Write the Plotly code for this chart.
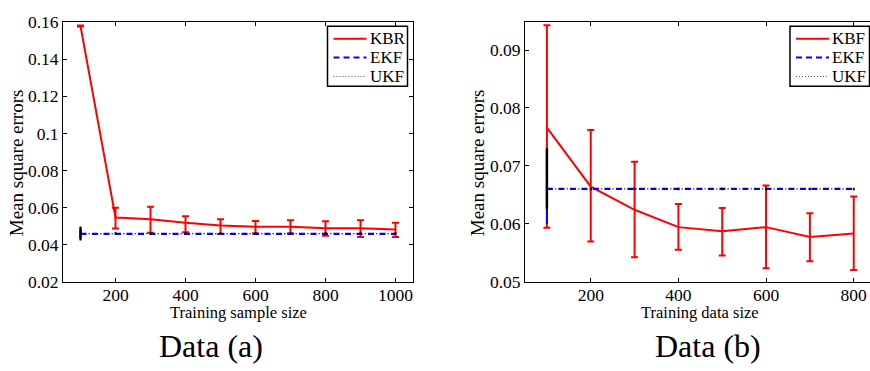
import plotly.graph_objects as go

W, H = 870, 371

# ---------------- Data (a) ----------------
a_x = [100, 200, 300, 400, 500, 600, 700, 800, 900, 1000]
a_kbr = [0.1580, 0.0546, 0.0536, 0.0517, 0.0503, 0.0496, 0.0496, 0.0488, 0.0488, 0.0481]
a_kbr_hi = [0.1583, 0.0599, 0.0604, 0.0553, 0.0536, 0.0527, 0.0531, 0.0525, 0.0531, 0.0518]
a_kbr_lo = [0.1577, 0.0486, 0.0464, 0.0466, 0.0457, 0.0460, 0.0460, 0.0447, 0.0440, 0.0440]
a_ekf = [0.0457] * len(a_x)
a_ekf_hi = 0.0477
a_ekf_lo = 0.0437
a_ukf = [0.0459] * len(a_x)
a_ukf_hi = 0.0491
a_ukf_lo = 0.0428
a_xticks = [200, 400, 600, 800, 1000]
a_yticks = [0.02, 0.04, 0.06, 0.08, 0.10, 0.12, 0.14, 0.16]
a_ytick_labels = ["0.02", "0.04", "0.06", "0.08", "0.1", "0.12", "0.14", "0.16"]
a_names = ["KBR", "EKF", "UKF"]

# ---------------- Data (b) ----------------
b_x = [100, 200, 300, 400, 500, 600, 700, 800]
b_kbf = [0.0766, 0.0664, 0.0624, 0.0594, 0.0587, 0.0594, 0.0577, 0.0583]
b_kbf_hi = [0.0943, 0.0762, 0.0707, 0.0634, 0.0627, 0.0666, 0.0618, 0.0647]
b_kbf_lo = [0.0593, 0.0569, 0.0542, 0.0555, 0.0545, 0.0523, 0.0535, 0.0520]
b_ekf = [0.0660] * len(b_x)
b_ekf_hi = 0.0720
b_ekf_lo = 0.0600
b_ukf = [0.0660] * len(b_x)
b_ukf_hi = 0.0729
b_ukf_lo = 0.0627
b_xticks = [200, 400, 600, 800]
b_yticks = [0.05, 0.06, 0.07, 0.08, 0.09]
b_ytick_labels = ["0.05", "0.06", "0.07", "0.08", "0.09"]
b_names = ["KBF", "EKF", "UKF"]

RED = "#ff0000"
BLUE = "#0000ff"
FONT = "Liberation Serif"


def first_only(val, n):
    return [val] + [0] * (n - 1)


fig = go.Figure()


def add_panel(xs, kb, kb_hi, kb_lo, ekf, ekf_hi, ekf_lo, ukf, ukf_hi, ukf_lo, xa, ya):
    n = len(xs)
    fig.add_trace(go.Scatter(
        x=xs, y=kb, mode="lines", line=dict(color=RED, width=2),
        error_y=dict(type="data", symmetric=False,
                     array=[h - m for h, m in zip(kb_hi, kb)],
                     arrayminus=[m - l for m, l in zip(kb, kb_lo)],
                     color=RED, thickness=2, width=3.5),
        xaxis=xa, yaxis=ya, showlegend=False, hoverinfo="skip"))
    fig.add_trace(go.Scatter(
        x=xs, y=ekf, mode="lines", line=dict(color=BLUE, width=2.2, dash="6px,5.5px"),
        error_y=dict(type="data", symmetric=False,
                     array=first_only(ekf_hi - ekf[0], n),
                     arrayminus=first_only(ekf[0] - ekf_lo, n),
                     color=BLUE, thickness=2, width=0),
        xaxis=xa, yaxis=ya, showlegend=False, hoverinfo="skip"))
    fig.add_trace(go.Scatter(
        x=xs, y=ukf, mode="lines", line=dict(color="#404040", width=1.3, dash="0px,8px,1.5px,2px"),
        error_y=dict(type="data", symmetric=False,
                     array=first_only(ukf_hi - ukf[0], n),
                     arrayminus=first_only(ukf[0] - ukf_lo, n),
                     color="black", thickness=2.5, width=1),
        xaxis=xa, yaxis=ya, showlegend=False, hoverinfo="skip"))


add_panel(a_x, a_kbr, a_kbr_hi, a_kbr_lo, a_ekf, a_ekf_hi, a_ekf_lo,
          a_ukf, a_ukf_hi, a_ukf_lo, "x", "y")
add_panel(b_x, b_kbf, b_kbf_hi, b_kbf_lo, b_ekf, b_ekf_hi, b_ekf_lo,
          b_ukf, b_ukf_hi, b_ukf_lo, "x2", "y2")

axis_common = dict(showline=True, linecolor="black", linewidth=1, ticks="inside",
                   ticklen=4, tickcolor="black", tickwidth=1, showgrid=False,
                   zeroline=False, tickfont=dict(family=FONT, size=17.5, color="black"))

y_dom = [1 - 287 / H, 1 - 13 / H]


def px(xp):
    return xp / W


def py(yp):
    return 1 - yp / H


annotations = []
shapes = []


def text(t, xp, yp, size, angle=0):
    annotations.append(dict(text=t, x=px(xp), y=py(yp), xref="paper", yref="paper",
                            xanchor="center", yanchor="middle", showarrow=False,
                            textangle=angle, font=dict(family=FONT, size=size, color="black")))


# manual legend boxes (matlab style)
legend_styles = [dict(color=RED, width=2, dash="solid"),
                 dict(color=BLUE, width=2, dash="6px,4px"),
                 dict(color="#555555", width=1, dash="1px,2px")]


def legend(names, left, right, top, bottom):
    shapes.append(dict(type="rect", xref="paper", yref="paper", x0=px(left), x1=px(right),
                       y0=py(bottom), y1=py(top), line=dict(color="black", width=1.5),
                       fillcolor="white", layer="above"))
    for i, (nm, st) in enumerate(zip(names, legend_styles)):
        yy = top + 13 + 20 * i
        shapes.append(dict(type="line", xref="paper", yref="paper", x0=px(left + 6),
                           x1=px(left + 39), y0=py(yy), y1=py(yy), line=st, layer="above"))
        annotations.append(dict(text=nm, x=px(left + 40), y=py(yy), xref="paper", yref="paper",
                                xanchor="left", yanchor="middle", showarrow=False,
                                font=dict(family=FONT, size=17, color="black")))


legend(a_names, 327.5, 407.5, 17.3, 80.7)
legend(b_names, 790, 869.5, 17.3, 80.7)

text("Training sample size", 238, 319.5, 16.5)
text("Training data size", 700, 319.5, 16.5)
text("Mean square errors", 16, 162, 19, -90)
text("Mean square errors", 477, 162, 19, -90)
text("Data (a)", 211, 355, 32)
text("Data (b)", 708, 355, 32)

fig.update_layout(
    width=W, height=H, margin=dict(l=0, r=0, t=0, b=0),
    paper_bgcolor="white", plot_bgcolor="white",
    font=dict(family=FONT, color="black"),
    showlegend=False,
    xaxis=dict(domain=[63 / W, 413 / W], range=[50, 1050], tickvals=a_xticks,
               mirror="ticks", anchor="y", ticklabelstandoff=-3, **axis_common),
    yaxis=dict(domain=y_dom, range=[0.02, 0.16], tickvals=a_yticks,
               ticktext=a_ytick_labels, mirror="ticks", anchor="x", **axis_common),
    xaxis2=dict(domain=[525 / W, 1.0], range=[50, 50 + 345 / 0.4383], tickvals=b_xticks,
                mirror="ticks", anchor="y2", ticklabelstandoff=-3, **axis_common),
    yaxis2=dict(domain=y_dom, range=[0.05, 0.0948], tickvals=b_yticks,
                ticktext=b_ytick_labels, mirror=False, anchor="x2", **axis_common),
    annotations=annotations,
    shapes=shapes,
)

fig.write_html(
    "out.html",
    config={"displayModeBar": False, "staticPlot": True},
    post_script="document.body.style.margin='0';document.body.style.padding='0';"
                "document.body.style.overflow='hidden';",
)
